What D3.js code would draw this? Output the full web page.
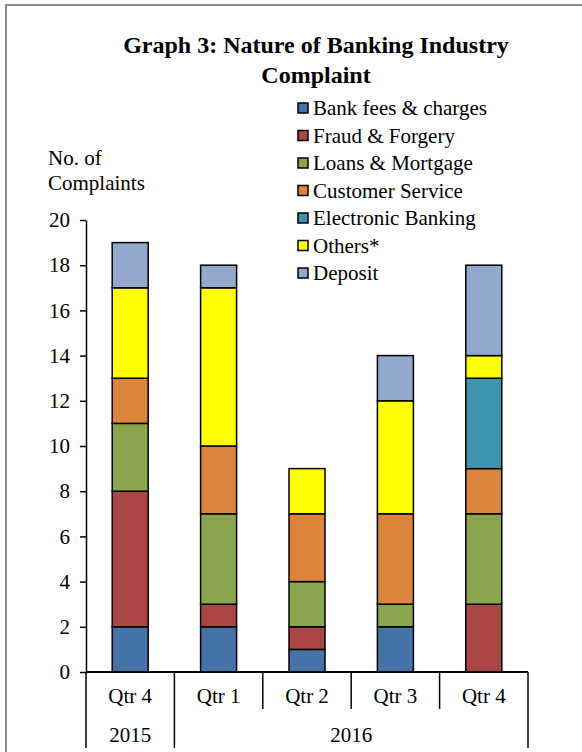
<!DOCTYPE html>
<html>
<head>
<meta charset="utf-8">
<script src="https://cdn.jsdelivr.net/npm/d3@7"></script>
<style>
  body { margin: 0; background: #fff; }
  svg text { font-family: "Liberation Serif", "Times New Roman", serif; fill: #000; }
</style>
</head>
<body>
<svg id="chart" width="582" height="752"></svg>
<script>
// chart data
var quarters = ['Qtr 4', 'Qtr 1', 'Qtr 2', 'Qtr 3', 'Qtr 4'];
var years = [{label: '2015', from: 0, to: 1}, {label: '2016', from: 1, to: 5}];
var series_names = ['Bank fees & charges', 'Fraud & Forgery', 'Loans & Mortgage',
    'Customer Service', 'Electronic Banking', 'Others*', 'Deposit'];
var bank_fees = [2, 2, 1, 2, 0];
var fraud = [6, 1, 1, 0, 3];
var loans = [3, 4, 2, 1, 4];
var customer_service = [2, 3, 3, 4, 2];
var electronic = [0, 0, 0, 0, 4];
var others = [4, 7, 2, 5, 1];
var deposit = [2, 1, 0, 2, 4];
var y_ticks = [0, 2, 4, 6, 8, 10, 12, 14, 16, 18, 20];
var colors = ['#4572A7', '#AA4643', '#89A54E', '#DB843D', '#3D96AE', '#FFFF00', '#92A8CD'];

var svg = d3.select('#chart');
var padding = {top: 220, left: 86, right: 54, bottom: 80};
var width = 582, height = 752;
var font_size = '21px';

// frame
svg.append('path')
    .attr('d', 'M6,752 V5 H582')
    .attr('fill', 'none')
    .attr('stroke', '#8c8c8c')
    .attr('stroke-width', 2);

// title
var title = svg.append('text')
    .attr('text-anchor', 'middle')
    .style('font-size', '24px')
    .style('font-weight', 'bold');
title.append('tspan').attr('x', 316).attr('y', 53).text('Graph 3: Nature of Banking Industry');
title.append('tspan').attr('x', 316).attr('y', 83).text('Complaint');

// stacked data
var table = quarters.map(function(q, i){
    return {i: i, q: q, s0: bank_fees[i], s1: fraud[i], s2: loans[i], s3: customer_service[i],
        s4: electronic[i], s5: others[i], s6: deposit[i]};
});
var keys = ['s0', 's1', 's2', 's3', 's4', 's5', 's6'];
var stacked = d3.stack().keys(keys)(table);

var x_scale = d3.scaleBand()
    .domain(d3.range(quarters.length))
    .range([padding.left, width - padding.right]);
var y_scale = d3.scaleLinear()
    .domain([0, 20])
    .range([height - padding.bottom, padding.top]);

var bar_w = 36;

// bars
svg.append('g').selectAll('g')
    .data(stacked)
    .join('g')
    .attr('fill', function(d, k){ return colors[k]; })
    .selectAll('rect')
    .data(function(d){ return d.filter(function(v){ return v[1] > v[0]; }); })
    .join('rect')
    .attr('x', function(d){ return x_scale(d.data.i) + x_scale.bandwidth() / 2 - bar_w / 2; })
    .attr('y', function(d){ return y_scale(d[1]); })
    .attr('width', bar_w)
    .attr('height', function(d){ return y_scale(d[0]) - y_scale(d[1]); })
    .attr('stroke', '#000')
    .attr('stroke-width', 1.5);

// y axis
var y_axis = svg.append('g')
    .attr('transform', 'translate(' + padding.left + ',0)')
    .call(d3.axisLeft(y_scale).tickValues(y_ticks).tickSize(6).tickPadding(10).tickSizeOuter(0));
y_axis.select('.domain').attr('stroke', '#000').attr('stroke-width', 1.5);
y_axis.selectAll('.tick line').attr('stroke', '#000').attr('stroke-width', 1.5);
y_axis.selectAll('.tick text')
    .style('font-family', '"Liberation Serif", serif')
    .style('font-size', font_size)
    .attr('fill', '#000');

// y label
var y_label = svg.append('text').style('font-size', font_size);
y_label.append('tspan').attr('x', 48).attr('y', 165).text('No. of');
y_label.append('tspan').attr('x', 48).attr('y', 190).text('Complaints');

// x axis
var base_y = y_scale(0);
var x_axis = svg.append('g');
x_axis.append('line')
    .attr('x1', padding.left).attr('x2', width - padding.right)
    .attr('y1', base_y).attr('y2', base_y)
    .attr('stroke', '#000').attr('stroke-width', 2);

var boundaries = d3.range(quarters.length + 1);
var year_edges = [0, 1, 5];
x_axis.selectAll('.sep')
    .data(boundaries)
    .join('line')
    .attr('class', 'sep')
    .attr('x1', function(d){ return padding.left + d * x_scale.step(); })
    .attr('x2', function(d){ return padding.left + d * x_scale.step(); })
    .attr('y1', base_y)
    .attr('y2', function(d){ return year_edges.indexOf(d) >= 0 ? base_y + 76 : base_y + 37; })
    .attr('stroke', '#000').attr('stroke-width', 1.5);

x_axis.selectAll('.qlabel')
    .data(quarters)
    .join('text')
    .attr('class', 'qlabel')
    .attr('x', function(d, i){ return x_scale(i) + x_scale.bandwidth() / 2; })
    .attr('y', base_y + 31)
    .attr('text-anchor', 'middle')
    .style('font-size', font_size)
    .text(function(d){ return d; });

x_axis.selectAll('.ylabel')
    .data(years)
    .join('text')
    .attr('class', 'ylabel')
    .attr('x', function(d){ return padding.left + (d.from + d.to) / 2 * x_scale.step(); })
    .attr('y', base_y + 70)
    .attr('text-anchor', 'middle')
    .style('font-size', font_size)
    .text(function(d){ return d.label; });

// legend
var legend = svg.append('g').attr('transform', 'translate(298,108)');
var items = legend.selectAll('g')
    .data(series_names)
    .join('g')
    .attr('transform', function(d, i){ return 'translate(0,' + (i * 27.5) + ')'; });
items.append('rect')
    .attr('x', 0).attr('y', -5)
    .attr('width', 10).attr('height', 10)
    .attr('fill', function(d, i){ return colors[i]; })
    .attr('stroke', '#000').attr('stroke-width', 1.5);
items.append('text')
    .attr('x', 15).attr('y', 7)
    .style('font-size', font_size)
    .text(function(d){ return d; });
</script>
</body>
</html>
